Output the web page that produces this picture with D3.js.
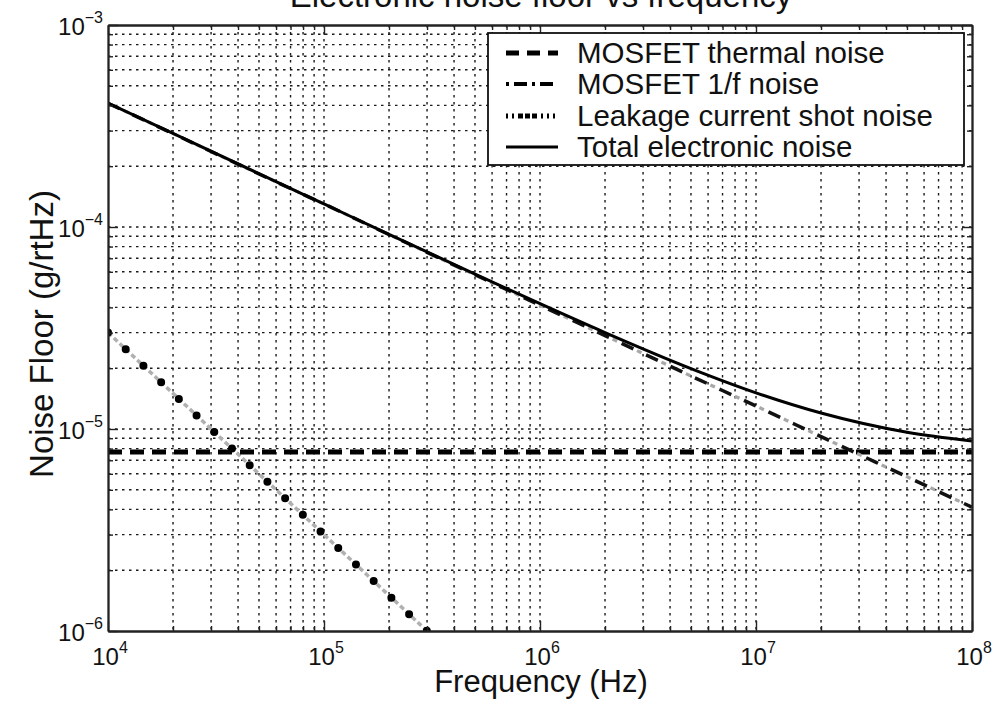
<!DOCTYPE html>
<html>
<head>
<meta charset="utf-8">
<script src="https://cdn.jsdelivr.net/npm/d3@7"></script>
<style>
  html, body { margin: 0; padding: 0; background: #fff; }
  svg { display: block; }
  text { font-family: "Liberation Sans", Arial, sans-serif; fill: #111; }
</style>
</head>
<body>
<svg id="chart" width="997" height="705"></svg>
<script>
// ---------- data ----------
const titleText = "Electronic noise floor vs frequency";
const xLabelText = "Frequency (Hz)";
const yLabelText = "Noise Floor (g/rtHz)";

const xTickExp = [4, 5, 6, 7, 8];
const yTickExp = [-3, -4, -5, -6];

const freq = [1e4, 2e4, 5e4, 1e5, 2e5, 5e5, 1e6, 2e6, 5e6, 1e7, 2e7, 5e7, 1e8];
const flickerNoise = [4.10e-4, 2.90e-4, 1.83e-4, 1.30e-4, 9.17e-5, 5.80e-5, 4.10e-5,
                      2.90e-5, 1.83e-5, 1.30e-5, 9.17e-6, 5.80e-6, 4.10e-6];
const totalNoise   = [4.11e-4, 2.905e-4, 1.837e-4, 1.30e-4, 9.20e-5, 5.85e-5, 4.17e-5,
                      3.00e-5, 1.99e-5, 1.51e-5, 1.20e-5, 9.64e-6, 8.72e-6];
const thermalFreq = [1e4, 1e8];
const thermalNoise = [7.7e-6, 7.7e-6];
const shotFreq = [1e4, 3e5];
const shotNoise = [3.0e-5, 1.0e-6];

const legendLabels = ["MOSFET thermal noise", "MOSFET 1/f noise",
                      "Leakage current shot noise", "Total electronic noise"];

// ---------- layout ----------
const L = 108, R = 972, T = 25, B = 631;
const svg = d3.select("#chart");

const x = d3.scaleLog().domain([1e4, 1e8]).range([L, R]);
const y = d3.scaleLog().domain([1e-6, 1e-3]).range([B, T]);

function allTicks(lo, hi) {
  const out = [];
  for (let e = lo; e < hi; e++) for (let k = 1; k <= 9; k++) out.push(k * Math.pow(10, e));
  out.push(Math.pow(10, hi));
  return out;
}
const xAll = allTicks(4, 8);
const yAll = allTicks(-6, -3);
const xMajor = xTickExp.map(e => Math.pow(10, e));
const yMajor = yTickExp.map(e => Math.pow(10, e));
const isMajor = v => Math.abs(Math.log10(v) - Math.round(Math.log10(v))) < 1e-9;
const xMinor = xAll.filter(v => !isMajor(v));
const yMinor = yAll.filter(v => !isMajor(v));

// ---------- grid ----------
const grid = svg.append("g").attr("stroke", "#1a1a1a").attr("stroke-width", 1.4)
  .attr("stroke-dasharray", "2.5,4.5");
grid.selectAll("line.vx").data(xAll.filter(v => v > 1e4 && v < 1e8)).join("line")
  .attr("x1", d => x(d)).attr("x2", d => x(d)).attr("y1", T).attr("y2", B);
grid.selectAll("line.hy").data(yAll.filter(v => v > 1e-6 && v < 1e-3)).join("line")
  .attr("class", "hy")
  .attr("y1", d => y(d)).attr("y2", d => y(d)).attr("x1", L).attr("x2", R);

// ---------- clip ----------
svg.append("clipPath").attr("id", "clip").append("rect")
  .attr("x", L).attr("y", T).attr("width", R - L).attr("height", B - T);
const plot = svg.append("g").attr("clip-path", "url(#clip)");

const line = d3.line().x(d => x(d[0])).y(d => y(d[1])).curve(d3.curveMonotoneX);
const zip = (a, b) => a.map((v, i) => [v, b[i]]);

// shot noise: grey dashed under black dots
plot.append("path").attr("d", line(zip(shotFreq, shotNoise)))
  .attr("fill", "none").attr("stroke", "#b0b0b0").attr("stroke-width", 3.5)
  .attr("stroke-dasharray", "5,3");
plot.append("path").attr("d", line(zip(shotFreq, shotNoise)))
  .attr("fill", "none").attr("stroke", "#000").attr("stroke-width", 8)
  .attr("stroke-linecap", "round").attr("stroke-dasharray", "0,24.25");

// thermal
plot.append("path").attr("d", line(zip(thermalFreq, thermalNoise)))
  .attr("fill", "none").attr("stroke", "#000").attr("stroke-width", 5)
  .attr("stroke-dasharray", "14,8");

// 1/f: black dashes + grey dots
const fl = line(zip(freq, flickerNoise));
plot.append("path").attr("d", fl).attr("fill", "none").attr("stroke", "#a8a8a8")
  .attr("stroke-width", 3.2).attr("stroke-dasharray", "0,17,5,5");
plot.append("path").attr("d", fl).attr("fill", "none").attr("stroke", "#111")
  .attr("stroke-width", 3.5).attr("stroke-dasharray", "13,14");

// total
plot.append("path").attr("d", line(zip(freq, totalNoise)))
  .attr("fill", "none").attr("stroke", "#000").attr("stroke-width", 3);

// ---------- axes (ticks inward) ----------
function styleAxis(g) {
  g.selectAll("path.domain").attr("stroke", "#222").attr("stroke-width", 1.8);
  g.selectAll(".tick line").attr("stroke", "#222").attr("stroke-width", 1.4);
}
const axes = [
  [d3.axisBottom, x, `translate(0,${B})`],
  [d3.axisTop, x, `translate(0,${T})`],
  [d3.axisLeft, y, `translate(${L},0)`],
  [d3.axisRight, y, `translate(${R},0)`]
];
axes.forEach(([fn, sc, tr]) => {
  const maj = sc === x ? xMajor : yMajor;
  const min = sc === x ? xMinor : yMinor;
  svg.append("g").attr("transform", tr)
    .call(fn(sc).tickValues(min).tickSize(-5).tickFormat("").tickSizeOuter(0))
    .call(styleAxis);
  svg.append("g").attr("transform", tr)
    .call(fn(sc).tickValues(maj).tickSize(-10).tickFormat("").tickSizeOuter(0))
    .call(styleAxis);
});

// ---------- tick labels ----------
const xl = svg.append("g");
xTickExp.forEach(e => {
  const t = xl.append("text").attr("x", x(Math.pow(10, e)) + 2).attr("y", 665)
    .attr("text-anchor", "middle").attr("font-size", 24);
  t.append("tspan").text("10");
  t.append("tspan").attr("dy", -12).attr("font-size", 16).text(String(e));
});
const yl = svg.append("g");
yTickExp.forEach(e => {
  const t = yl.append("text").attr("x", 103).attr("y", y(Math.pow(10, e)) + 10)
    .attr("text-anchor", "end").attr("font-size", 24);
  t.append("tspan").text("10");
  t.append("tspan").attr("dy", -12).attr("font-size", 16).text("\u2212" + Math.abs(e));
});

// ---------- labels ----------
svg.append("text").attr("x", 541).attr("y", 7).attr("text-anchor", "middle")
  .attr("font-size", 33).text(titleText);
svg.append("text").attr("x", 541).attr("y", 692).attr("text-anchor", "middle")
  .attr("font-size", 31).text(xLabelText);
svg.append("text").attr("transform", "translate(53,334) rotate(-90)")
  .attr("text-anchor", "middle").attr("font-size", 33).text(yLabelText);

// ---------- legend ----------
const lg = svg.append("g");
lg.append("rect").attr("x", 488).attr("y", 33).attr("width", 476).attr("height", 132)
  .attr("fill", "#fff").attr("stroke", "#111").attr("stroke-width", 1.8);
const rowY = [53, 84, 116, 147];
const lx1 = 506, lx2 = 558;
legendLabels.forEach((lab, i) => {
  const yy = rowY[i];
  lg.append("text").attr("x", 577).attr("y", yy + 10).attr("font-size", 29.5)
    .attr("textLength", null).text(lab);
});
// sample lines
lg.append("line").attr("x1", lx1).attr("x2", lx2).attr("y1", rowY[0]).attr("y2", rowY[0])
  .attr("stroke", "#000").attr("stroke-width", 5).attr("stroke-dasharray", "13,8");
lg.append("line").attr("x1", lx1).attr("x2", lx2).attr("y1", rowY[1]).attr("y2", rowY[1])
  .attr("stroke", "#000").attr("stroke-width", 4).attr("stroke-dasharray", "3,5,13,5");
lg.append("line").attr("x1", lx1).attr("x2", lx2).attr("y1", rowY[2]).attr("y2", rowY[2])
  .attr("stroke", "#000").attr("stroke-width", 5).attr("stroke-dasharray", "2,4,2,4,5,2,5,2,5,4,2,4");
lg.append("line").attr("x1", lx1).attr("x2", lx2).attr("y1", rowY[3]).attr("y2", rowY[3])
  .attr("stroke", "#000").attr("stroke-width", 3);
</script>
</body>
</html>
